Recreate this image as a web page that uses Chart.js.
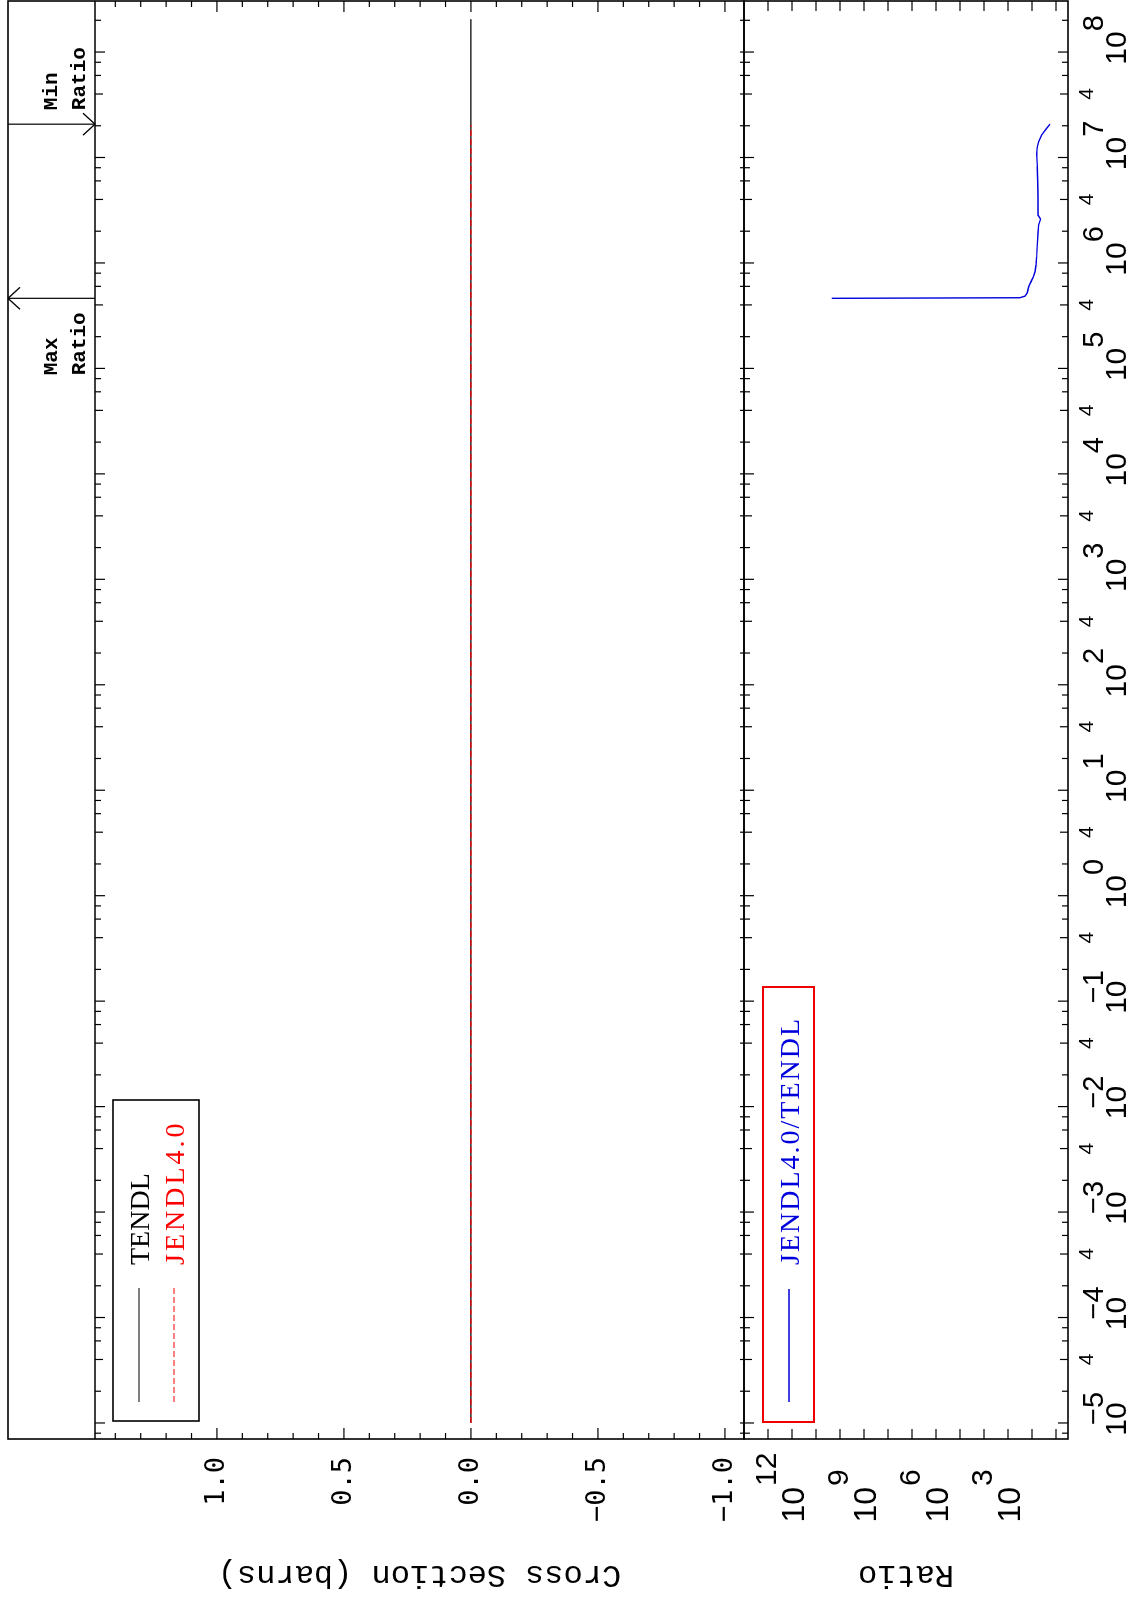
<!DOCTYPE html>
<html>
<head>
<meta charset="utf-8">
<script src="https://cdn.jsdelivr.net/npm/chart.js@4.4.1/dist/chart.umd.min.js"></script>
<style>
  html, body { margin: 0; padding: 0; background: #fff; }
  body { width: 1129px; height: 1600px; overflow: hidden; position: relative; }
  /* the plot is drawn landscape and turned a quarter turn, like the printed page */
  #plot {
    position: absolute; left: 0; top: 0;
    width: 1600px; height: 1129px;
    transform-origin: 0 0;
    transform: translateY(1600px) rotate(-90deg);
  }
  #plot canvas { position: absolute; left: 0; top: 0; }
</style>
</head>
<body>
<div id="plot">
  <canvas id="xsChart" width="1600" height="1129"></canvas>
  <canvas id="ratioChart" width="1600" height="1129"></canvas>
</div>
<script>
console.log("Cross section plot loaded");

/* =========================
   DATA
========================= */

const tendlEnergy = [1e-5, 2.05e8];
const tendlXs = [0, 0];

const jendlEnergy = [1e-5, 2.03e7];
const jendlXs = [0, 0];

const ratioEnergy = [4.62e5, 4.68e5, 4.85e5, 5.22e5, 5.96e5, 6.64e5, 7.40e5, 8.26e5, 9.55e5,
    1.15e6, 1.53e6, 1.91e6, 2.29e6, 2.61e6, 2.84e6, 3.41e6, 4.24e6, 5.69e6, 8.17e6,
    1.09e7, 1.27e7, 1.41e7, 1.63e7, 1.89e7, 2.07e7];
const ratioValues = [2.2e10, 316, 196, 157, 137, 110, 88, 75, 68,
    64, 60, 56, 53, 44, 56, 56, 56, 58, 60,
    64, 60, 53, 40, 24.5, 17.8];

const seriesNames = ["TENDL", "JENDL4.0"];
const ratioName = "JENDL4.0/TENDL";

const csLabelTicks = [-1.0, -0.5, 0.0, 0.5, 1.0];
const ratioTickExps = [1, 2, 3, 4, 5, 6, 7, 8, 9, 10, 11, 12, 13];
const ratioLabelExps = [3, 6, 9, 12];
const energyDecades = [-6, -5, -4, -3, -2, -1, 0, 1, 2, 3, 4, 5, 6, 7, 8];
const energyMinor = [2, 4, 6, 8];
const energyLabelExps = [-5, -4, -3, -2, -1, 0, 1, 2, 3, 4, 5, 6, 7, 8];

/* =========================
   LAYOUT
========================= */

const E_MIN = Math.pow(10, -5.152);
const E_MAX = Math.pow(10, 8.484);
const FRAME_TOP = 8;
const AXIS_W = 161;

function pts(xs, ys) {
    return xs.map((x, i) => ({ x: x, y: ys[i] }));
}

function line(ctx, x1, y1, x2, y2) {
    ctx.beginPath();
    ctx.moveTo(x1, y1);
    ctx.lineTo(x2, y2);
    ctx.stroke();
}

function energyTicks(xs) {
    const out = [];
    energyDecades.forEach(d => {
        const base = Math.pow(10, d);
        out.push({ v: base, len: 10 });
        energyMinor.forEach(m => out.push({ v: m * base, len: m === 4 ? 8 : 6 }));
    });
    return out.filter(t => t.v >= xs.min && t.v <= xs.max);
}

function xAxisOpts() {
    return { type: "logarithmic", display: false, min: E_MIN, max: E_MAX };
}

/* =========================
   CROSS SECTION PANEL
========================= */

const xsFrame = {
    id: "xsFrame",
    afterDraw(chart) {
        const { ctx, chartArea: a, scales: { x, y } } = chart;
        ctx.save();
        ctx.strokeStyle = "#000";

        ctx.lineWidth = 1.6;
        ctx.strokeRect(a.left, FRAME_TOP, a.right - a.left, a.bottom - FRAME_TOP);
        line(ctx, a.left, a.top, a.right, a.top);

        ctx.lineWidth = 1.2;
        energyTicks(x).forEach(t => {
            const px = x.getPixelForValue(t.v);
            line(ctx, px, a.top, px, a.top + t.len);
            line(ctx, px, a.bottom, px, a.bottom - 4);
        });

        for (let i = -10; i <= 14; i++) {
            const py = y.getPixelForValue(i / 10);
            const len = i % 5 === 0 ? 11 : 6;
            line(ctx, a.left, py, a.left + len, py);
            line(ctx, a.right, py, a.right - len, py);
        }

        // max / min ratio markers
        let iMax = 0, iMin = 0;
        ratioValues.forEach((v, i) => {
            if (v > ratioValues[iMax]) iMax = i;
            if (v < ratioValues[iMin]) iMin = i;
        });
        const xMax = x.getPixelForValue(ratioEnergy[iMax]);
        const xMin = x.getPixelForValue(ratioEnergy[iMin]);

        line(ctx, xMax, FRAME_TOP, xMax, a.top);
        line(ctx, xMax - 11, FRAME_TOP + 12, xMax, FRAME_TOP);
        line(ctx, xMax + 11, FRAME_TOP + 12, xMax, FRAME_TOP);

        line(ctx, xMin, FRAME_TOP, xMin, a.top);
        line(ctx, xMin - 11, a.top - 12, xMin, a.top);
        line(ctx, xMin + 11, a.top - 12, xMin, a.top);

        ctx.fillStyle = "#000";
        ctx.font = "bold 21px 'Liberation Mono'";
        ctx.textBaseline = "middle";
        ctx.textAlign = "left";
        const wRatio = ctx.measureText("Ratio").width;
        ctx.fillText("Max", xMax - 14 - wRatio, 52);
        ctx.fillText("Ratio", xMax - 14 - wRatio, 80);
        ctx.fillText("Min", xMin + 14, 52);
        ctx.fillText("Ratio", xMin + 14, 80);

        // legend
        ctx.lineWidth = 1.6;
        ctx.strokeRect(179, 113, 321, 86);
        ctx.lineWidth = 1.2;
        line(ctx, 198, 139, 312, 139);
        ctx.strokeStyle = "#ff0000";
        ctx.setLineDash([6, 3]);
        line(ctx, 198, 174, 312, 174);
        ctx.setLineDash([]);

        ctx.font = "28px 'Liberation Serif'";
        ctx.textBaseline = "alphabetic";
        ctx.fillStyle = "#000";
        ctx.fillText(seriesNames[0], 335, 149);
        ctx.fillStyle = "#ff0000";
        ctx.letterSpacing = "3px";
        ctx.fillText(seriesNames[1], 335, 184);
        ctx.letterSpacing = "0px";

        ctx.restore();
    }
};

new Chart(document.getElementById("xsChart"), {
    type: "line",
    data: {
        datasets: [{
            label: seriesNames[0],
            data: pts(tendlEnergy, tendlXs),
            borderColor: "#000",
            borderWidth: 1.2,
            pointRadius: 0,
            order: 1
        }, {
            label: seriesNames[1],
            data: pts(jendlEnergy, jendlXs),
            borderColor: "#ff0000",
            borderWidth: 1.2,
            borderDash: [6, 3],
            pointRadius: 0,
            order: 0
        }]
    },
    options: {
        responsive: false,
        animation: false,
        devicePixelRatio: 1,
        events: [],
        layout: { padding: { top: 95, right: 1, bottom: 385, left: 0 } },
        plugins: { legend: { display: false }, tooltip: { enabled: false } },
        scales: {
            x: xAxisOpts(),
            y: {
                min: -1.075,
                max: 1.48,
                afterFit: s => { s.width = AXIS_W; },
                afterBuildTicks: s => { s.ticks = csLabelTicks.map(v => ({ value: v })); },
                grid: { display: false, drawTicks: false },
                border: { display: false },
                ticks: {
                    padding: 18,
                    color: "#000",
                    font: { family: "DejaVu Sans Mono", size: 27 },
                    callback: v => (v < 0 ? "\u2212" : "") + Math.abs(v).toFixed(1)
                },
                title: {
                    display: true,
                    text: "Cross Section (barns)",
                    color: "#000",
                    font: { family: "Liberation Mono", size: 32 },
                    padding: { top: 6, bottom: 0 }
                }
            }
        }
    },
    plugins: [xsFrame]
});

/* =========================
   RATIO PANEL
========================= */

const ratioFrame = {
    id: "ratioFrame",
    afterDraw(chart) {
        const { ctx, chartArea: a, scales: { x, y } } = chart;
        ctx.save();
        ctx.strokeStyle = "#000";

        ctx.lineWidth = 1.6;
        ctx.strokeRect(a.left, a.top, a.right - a.left, a.bottom - a.top);

        ctx.lineWidth = 1.2;
        energyTicks(x).forEach(t => {
            const px = x.getPixelForValue(t.v);
            line(ctx, px, a.top, px, a.top + t.len);
            line(ctx, px, a.bottom, px, a.bottom - t.len);
        });

        ratioTickExps.forEach(e => {
            const py = y.getPixelForValue(Math.pow(10, e));
            line(ctx, a.left, py, a.left + 10, py);
            line(ctx, a.right, py, a.right - 10, py);
        });

        // energy labels
        ctx.fillStyle = "#000";
        ctx.textBaseline = "alphabetic";
        energyLabelExps.forEach(e => {
            const px = x.getPixelForValue(Math.pow(10, e)) + 4;
            ctx.font = "30px 'Liberation Sans'";
            ctx.textAlign = "center";
            ctx.fillText("10", px, a.bottom + 58);
            const w = ctx.measureText("10").width;
            ctx.font = "29px 'Liberation Sans'";
            ctx.textAlign = "left";
            if (e < 0) {
                ctx.fillText("\u2212" + (-e), px - 6, a.bottom + 35);
            } else {
                ctx.fillText(String(e), px + w / 2, a.bottom + 35);
            }
        });
        ctx.font = "21px 'Liberation Sans'";
        ctx.textAlign = "center";
        energyLabelExps.forEach(e => {
            const v = 4 * Math.pow(10, e);
            if (v > x.max) return;
            ctx.fillText("4", x.getPixelForValue(v), a.bottom + 25);
        });

        // ratio labels
        ratioLabelExps.forEach(e => {
            const py = y.getPixelForValue(Math.pow(10, e));
            ctx.font = "32px 'Liberation Sans'";
            ctx.textAlign = "right";
            ctx.fillText("10", 113, py + 12);
            ctx.font = "30px 'Liberation Sans'";
            ctx.textAlign = "left";
            ctx.fillText(String(e), 114, py - 16);
        });

        // legend
        ctx.strokeStyle = "#ee0000";
        ctx.lineWidth = 2;
        ctx.strokeRect(178, 763, 435, 51);
        ctx.strokeStyle = "#0000dd";
        ctx.lineWidth = 1.4;
        line(ctx, 198, 789, 311, 789);
        ctx.fillStyle = "#0000dd";
        ctx.font = "28px 'Liberation Serif'";
        ctx.textAlign = "left";
        ctx.letterSpacing = "2px";
        ctx.fillText(ratioName, 335, 799);
        ctx.letterSpacing = "0px";

        ctx.restore();
    }
};

new Chart(document.getElementById("ratioChart"), {
    type: "line",
    data: {
        datasets: [{
            label: ratioName,
            data: pts(ratioEnergy, ratioValues),
            borderColor: "#0000dd",
            borderWidth: 1.4,
            pointRadius: 0
        }]
    },
    options: {
        responsive: false,
        animation: false,
        devicePixelRatio: 1,
        events: [],
        layout: { padding: { top: 744, right: 1, bottom: 61, left: 0 } },
        plugins: { legend: { display: false }, tooltip: { enabled: false } },
        scales: {
            x: xAxisOpts(),
            y: {
                type: "logarithmic",
                min: Math.pow(10, 0.5),
                max: 1e14,
                afterFit: s => { s.width = AXIS_W; },
                grid: { display: false, drawTicks: false },
                border: { display: false },
                ticks: { display: false },
                title: {
                    display: true,
                    text: "Ratio",
                    color: "#000",
                    font: { family: "Liberation Mono", size: 32 },
                    padding: { top: 6, bottom: 0 }
                }
            }
        }
    },
    plugins: [ratioFrame]
});
</script>
</body>
</html>
